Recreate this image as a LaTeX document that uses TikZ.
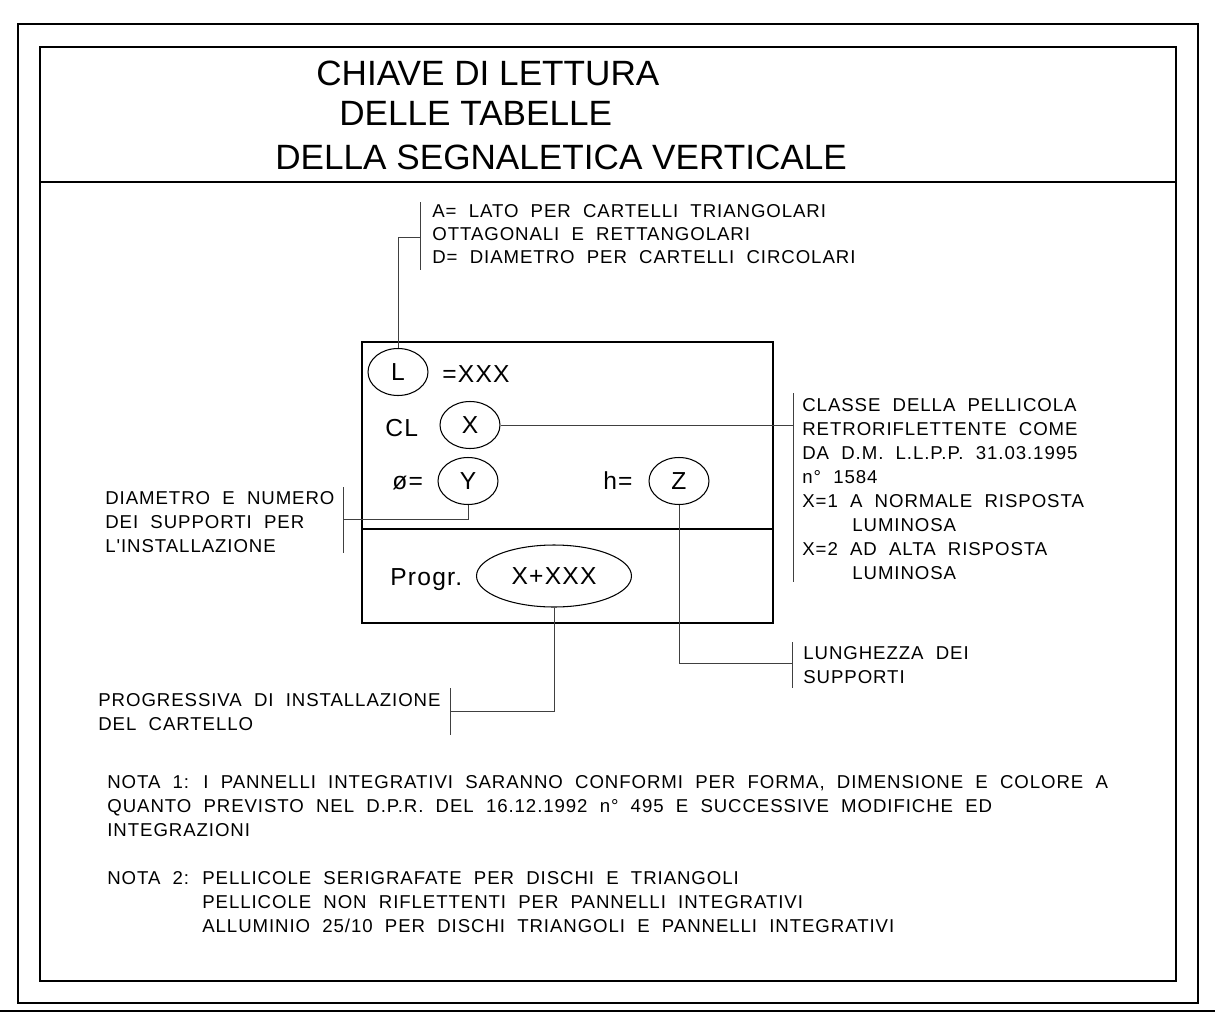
\documentclass[tikz,border=0pt]{standalone}
\usepackage{fontspec}
\setmainfont{Liberation Sans}
\newfontfamily\cadfont[LetterSpace=5,WordSpace=2]{Liberation Sans}
\usepackage{tikz}
\usetikzlibrary{shapes.geometric,calc}

\begin{document}
\begin{tikzpicture}[x=0.02cm, y=-0.02cm,
    frame/.style={line width=0.7pt},
    lead/.style={line width=0.55pt, draw=black!75},
    sym/.style={ellipse, draw, line width=0.6pt, minimum width=1.2cm, minimum height=0.94cm,
        inner sep=0pt, font=\cadfont\fontsize{14}{16}\selectfont},
    titletext/.style={anchor=west, inner sep=0pt, font=\fontsize{20}{24}\selectfont},
    boxtext/.style={anchor=base west, inner sep=0pt, font=\cadfont\fontsize{14}{16}\selectfont},
    note/.style={align=left, anchor=west, inner sep=0pt, font=\cadfont\fontsize{10.6}{13.66}\selectfont}]
    \useasboundingbox (0,0) rectangle (1215,1018);

    % Frames
    \draw[frame] (18,24) rectangle (1198,1003);
    \draw[line width=1.1pt] (40,47) rectangle (1176,981);
    \draw[line width=1.1pt] (40,182) -- (1176,182);
    \draw[line width=1.6pt] (0,1011) -- (1215,1011);

    % Title
    \node[titletext] (title1) at (316,73) {CHIAVE DI LETTURA};
    \node[titletext] (title2) at (339,113) {DELLE TABELLE};
    \node[titletext] (title3) at (275,157) {DELLA SEGNALETICA VERTICALE};

    % Key box
    \draw[line width=0.85pt] (362,342) rectangle (773,623);
    \draw[line width=0.85pt] (362,529) -- (773,529);

    \node[sym] (ellL) at (398,372) {L};
    \node[boxtext] (valL) at (442,382) {=XXX};
    \node[boxtext] (labCL) at (385,436) {CL};
    \node[sym] (ellX) at (470,425) {X};
    \node[boxtext] (labDia) at (392,489) {ø=};
    \node[sym] (ellY) at (468,481) {Y};
    \node[boxtext] (labH) at (603,489) {h=};
    \node[sym] (ellZ) at (679,481) {Z};
    \node[boxtext] (labProg) at (390,585) {Progr.};
    \node[sym, minimum width=3.1cm, minimum height=1.24cm] (ellProg) at (554,576) {X+XXX};

    % Callouts
    \node[note, font=\cadfont\fontsize{10.6}{13.1}\selectfont] (noteL) at (432,234)
        {A= LATO PER CARTELLI TRIANGOLARI\\OTTAGONALI E RETTANGOLARI\\D= DIAMETRO PER CARTELLI CIRCOLARI};
    \coordinate (barL1) at (420,202);
    \coordinate (barL2) at (420,270);
    \coordinate (joinL) at (420,237);
    \draw[lead] (barL1) -- (barL2);
    \draw[lead] (ellL.north) |- (joinL);

    \node[note] (noteX) at (802,489)
        {CLASSE DELLA PELLICOLA\\RETRORIFLETTENTE COME\\DA D.M. L.L.P.P. 31.03.1995\\n° 1584\\
         X=1 A NORMALE RISPOSTA\\\hspace*{1cm}LUMINOSA\\X=2 AD ALTA RISPOSTA\\\hspace*{1cm}LUMINOSA};
    \coordinate (barX1) at (793,393);
    \coordinate (barX2) at (793,582);
    \draw[lead] (barX1) -- (barX2);
    \draw[lead] (ellX.east) -- (ellX.east -| barX1);

    \node[note] (noteY) at (105,522)
        {DIAMETRO E NUMERO\\DEI SUPPORTI PER\\L'INSTALLAZIONE};
    \coordinate (barY1) at (343,487);
    \coordinate (barY2) at (343,553);
    \coordinate (joinY) at (343,519);
    \draw[lead] (barY1) -- (barY2);
    \draw[lead] (ellY.south) |- (joinY);

    \node[note] (noteZ) at (803,665.5)
        {LUNGHEZZA DEI\\SUPPORTI};
    \coordinate (barZ1) at (792,642);
    \coordinate (barZ2) at (792,688);
    \coordinate (joinZ) at (792,663);
    \draw[lead] (barZ1) -- (barZ2);
    \draw[lead] (ellZ.south) |- (joinZ);

    \node[note] (noteProg) at (98,712.5)
        {PROGRESSIVA DI INSTALLAZIONE\\DEL CARTELLO};
    \coordinate (barP1) at (450,688);
    \coordinate (barP2) at (450,735);
    \coordinate (joinP) at (450,711);
    \draw[lead] (barP1) -- (barP2);
    \draw[lead] (ellProg.south) |- (joinP);

    % Notes
    \node[note] (nota1) at (107,806)
        {NOTA 1: I PANNELLI INTEGRATIVI SARANNO CONFORMI PER FORMA, DIMENSIONE E COLORE A\\
         QUANTO PREVISTO NEL D.P.R. DEL 16.12.1992 n° 495 E SUCCESSIVE MODIFICHE ED\\
         INTEGRAZIONI};
    \node[note] (nota2) at (107,878) {NOTA 2:};
    \node[note] (nota2list) at (202,902.5)
        {PELLICOLE SERIGRAFATE PER DISCHI E TRIANGOLI\\
         PELLICOLE NON RIFLETTENTI PER PANNELLI INTEGRATIVI\\
         ALLUMINIO 25/10 PER DISCHI TRIANGOLI E PANNELLI INTEGRATIVI};
\end{tikzpicture}
\end{document}
